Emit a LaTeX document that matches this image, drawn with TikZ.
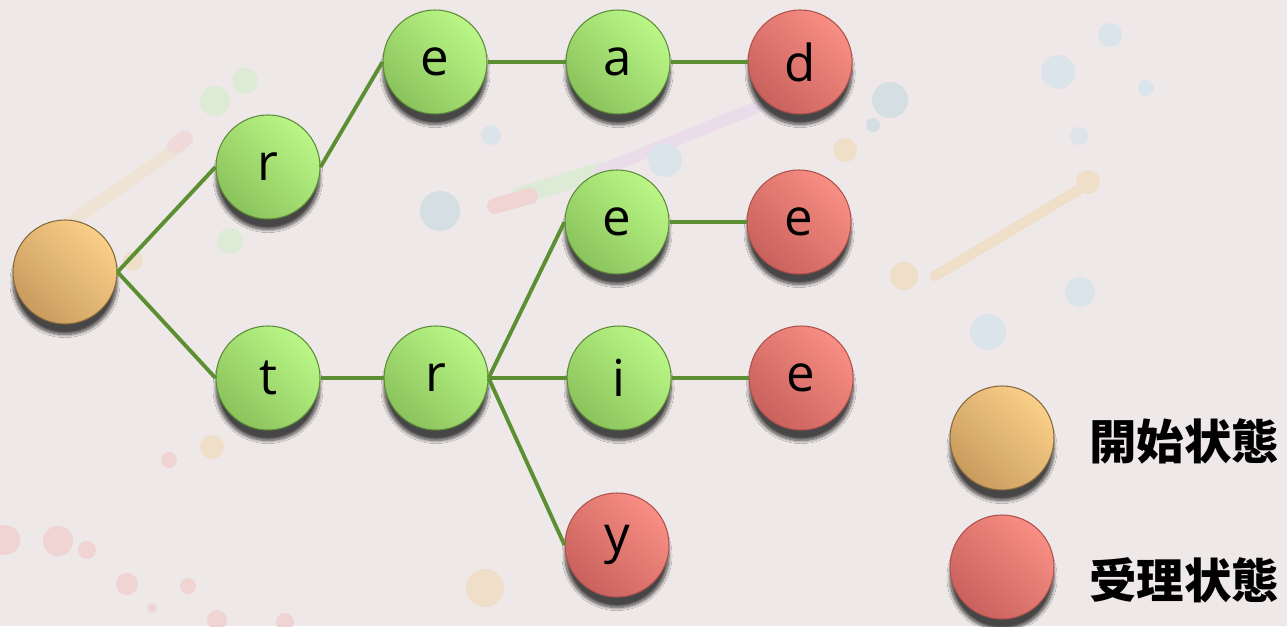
\documentclass[tikz,border=0pt]{standalone}
\usepackage{fontspec}
\newfontfamily\letterfont{Open Sans}
\newfontfamily\cjk{Noto Sans CJK JP}
\usetikzlibrary{positioning,shadows.blur}
\definecolor{paper}{HTML}{EEE8E8}
\definecolor{dropblue}{HTML}{DAE4EA}
\definecolor{dropgrey}{HTML}{D5DEE2}
\definecolor{droppeach}{HTML}{EFDFC8}
\definecolor{droppink}{HTML}{F0D3D3}
\definecolor{droplilac}{HTML}{EBDCEA}
\definecolor{dropgreen}{HTML}{DDEAD5}
\definecolor{edgec}{HTML}{5C8E32}
\definecolor{greenhi}{HTML}{BAF787}
\definecolor{greenlo}{HTML}{8BC35C}
\definecolor{greenrim}{HTML}{5E8B3A}
\definecolor{orangehi}{HTML}{FACF88}
\definecolor{orangelo}{HTML}{C99C5E}
\definecolor{orangerim}{HTML}{86683E}
\definecolor{redhi}{HTML}{F88E84}
\definecolor{redlo}{HTML}{C9625D}
\definecolor{redrim}{HTML}{B0504C}
\tikzset{
  state/.style={circle,minimum size=2.08cm,inner sep=0pt,line width=0.6pt,
    font=\letterfont\fontsize{29}{32}\selectfont,
    blur shadow={shadow xshift=0pt,shadow yshift=-6pt,shadow blur steps=12,shadow opacity=70}},
  mid/.style={state,draw=greenrim,top color=greenhi,bottom color=greenlo,shading angle=-45},
  init/.style={state,draw=orangerim,top color=orangehi,bottom color=orangelo,shading angle=-45},
  acc/.style={state,draw=redrim,top color=redhi,bottom color=redlo,shading angle=-45},
  link/.style={draw=edgec,line width=2.2pt},
  legtext/.style={anchor=west,inner sep=0pt,font=\cjk\bfseries\fontsize{27}{30}\selectfont},
  trail/.style={line width=#1,line cap=round},
}

\begin{document}
\begin{tikzpicture}
  \fill[paper](0,0) rectangle (25.74,12.52);
  \useasboundingbox (0,0) rectangle (25.74,12.52);
  % paint drops on the paper
  \draw[droppeach!60!paper,trail=7pt](1.3,8.0)--(3.6,9.6);
  \draw[droppink!70!paper,trail=9pt](3.5,9.6)--(3.7,9.75);
  \draw[dropgreen,trail=10pt](10.4,8.6)--(12.0,9.1);
  \draw[droppink,trail=9pt](9.9,8.4)--(10.6,8.6);
  \draw[droplilac,trail=7pt](12.0,9.1)--(15.2,10.4);
  \draw[droppeach,trail=6pt](18.7,7.0)--(21.7,8.8);
  \foreach \x/\y/\r/\c in {4.3/10.5/0.3/dropgreen,4.9/10.9/0.26/dropgreen,4.6/7.7/0.26/dropgreen,
    2.66/7.3/0.2/droppeach,9.82/9.82/0.2/dropblue,8.8/8.3/0.4/dropgrey,
    13.3/9.32/0.34/dropblue,16.9/9.52/0.24/droppeach,
    22.2/11.82/0.24/dropblue,21.16/11.08/0.34/dropblue,22.92/10.76/0.16/dropblue,
    17.8/10.52/0.36/dropgrey,17.46/10.02/0.14/dropgrey,21.58/9.8/0.18/dropblue,
    21.76/8.88/0.24/droppeach,18.08/7.0/0.28/droppeach,
    21.6/6.68/0.3/dropblue,19.76/5.88/0.36/dropblue,
    0.1/1.72/0.3/droppink,1.16/1.7/0.3/droppink,1.74/1.52/0.18/droppink,
    2.54/0.84/0.22/droppink,3.76/0.8/0.16/droppink,3.04/0.36/0.09/droppink,
    4.34/0.12/0.2/droppink,5.7/0.08/0.18/droppink,
    4.24/3.58/0.24/droppeach,3.38/3.32/0.16/droppink,9.7/0.76/0.38/droppeach}
    \fill[\c](\x,\y) circle (\r);

  \node[init](q0) at (1.30,7.08){};
  \node[mid](qr) at (5.36,9.18){r};
  \node[mid](qt) at (5.36,4.96){t};
  \node[mid](qre) at (8.70,11.28){e};
  \node[mid,right=1.56cm of qre](qrea){a};
  \node[acc,right=1.54cm of qrea](qread){d};
  \node[mid,right=1.26cm of qt](qtr){r};
  \node[mid,right=1.56cm of qtr](qtri){i};
  \node[acc,right=1.54cm of qtri](qtrie){e};
  \node[mid](qtre) at (12.34,8.08){e};
  \node[acc,right=1.54cm of qtre](qtree){e};
  \node[acc](qtry) at (12.34,1.62){y};
  \foreach \x/\y in {q0/qr,q0/qt,qr/qre,qre/qrea,qrea/qread,qt/qtr,
    qtr/qtre,qtre/qtree,qtr/qtri,qtri/qtrie,qtr/qtry}
    \draw[link](\x.east)--(\y.west);

  \node[init](k0) at (20.04,3.76){};
  \node[acc](k1) at (20.04,1.18){};
  \node[legtext](l0) at (21.78,3.70){開始状態};
  \node[legtext](l1) at (21.78,0.92){受理状態};
\end{tikzpicture}
\end{document}
